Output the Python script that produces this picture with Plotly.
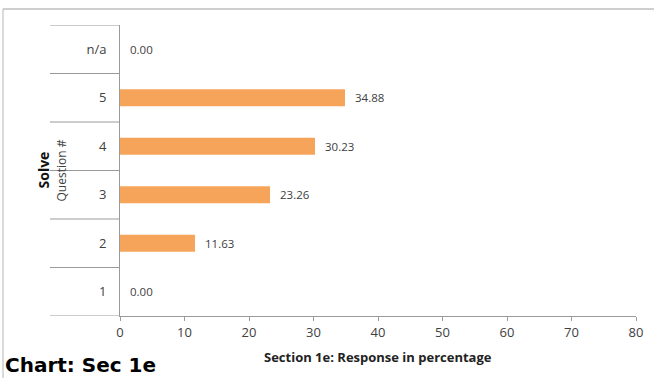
import plotly.graph_objects as go

# Response share per question (percent)
questions = ["1", "2", "3", "4", "5", "n/a"]
responses = [0.00, 11.63, 23.26, 30.23, 34.88, 0.00]
x_ticks = [0, 10, 20, 30, 40, 50, 60, 70, 80]

BAR = "#F5A45A"
TXT = "#404040"
AXIS = "#9a9a9a"
FONT = "Open Sans, Liberation Sans, sans-serif"

W, H = 654, 378
L, R, T, B = 120, 18, 25, 62
pw, ph = W - L - R, H - T - B


def px_x(px):
    return (px - L) / pw


def px_y(py):
    return (H - B - py) / ph


fig = go.Figure(
    go.Bar(
        x=responses,
        y=questions,
        orientation="h",
        width=0.35,
        marker=dict(color=BAR, line=dict(width=0)),
        hoverinfo="x+y",
    )
)

annotations = []
# value labels to the right of each bar (category axis positions are indices)
for i, v in enumerate(responses):
    annotations.append(dict(
        x=v, y=i, xref="x", yref="y", text=f"{v:.2f}", showarrow=False,
        xanchor="left", yanchor="middle", xshift=8,
        font=dict(size=11.5, color=TXT, family=FONT),
    ))

# vertical axis titles
annotations.append(dict(
    x=px_x(43), y=0.5, xref="paper", yref="paper", text="<b>Solve</b>",
    textangle=-90, showarrow=False, xanchor="center", yanchor="middle",
    font=dict(size=14, color="#111", family=FONT),
))
annotations.append(dict(
    x=px_x(61), y=0.5, xref="paper", yref="paper", text="Question #",
    textangle=-90, showarrow=False, xanchor="center", yanchor="middle",
    font=dict(size=12, color=TXT, family=FONT),
))
# horizontal axis title
annotations.append(dict(
    x=0.5, y=px_y(357), xref="paper", yref="paper",
    text="<b>Section 1e: Response in percentage</b>", showarrow=False,
    xanchor="center", yanchor="middle",
    font=dict(size=13, color="#222", family=FONT),
))
# chart caption, sitting on the bottom edge
annotations.append(dict(
    x=px_x(4), y=px_y(378), xref="paper", yref="paper",
    text="<b>Chart: Sec 1e</b>", showarrow=False,
    xanchor="left", yanchor="bottom", borderpad=0,
    font=dict(size=20, color="#000", family="DejaVu Sans, Verdana, sans-serif"),
))

shapes = []
# category separators extending left of the value axis
for i in range(len(questions) + 1):
    shapes.append(dict(
        type="line", xref="paper", yref="y",
        x0=px_x(50), x1=0, y0=i - 0.5, y1=i - 0.5,
        line=dict(color=AXIS, width=1),
    ))
# outer frame (top and left edges)
shapes.append(dict(type="line", xref="paper", yref="paper",
                   x0=px_x(3), x1=px_x(W + 5), y0=px_y(9), y1=px_y(9),
                   line=dict(color="#cfcfcf", width=2)))
shapes.append(dict(type="line", xref="paper", yref="paper",
                   x0=px_x(3), x1=px_x(3), y0=px_y(9), y1=px_y(H + 5),
                   line=dict(color="#b5b5b5", width=1)))

fig.update_layout(
    width=W, height=H,
    margin=dict(l=L, r=R, t=T, b=B),
    paper_bgcolor="white", plot_bgcolor="white",
    showlegend=False,
    annotations=annotations, shapes=shapes,
    font=dict(family=FONT, color=TXT),
    xaxis=dict(
        range=[0, 80], tickvals=x_ticks, showgrid=False, zeroline=False,
        showline=True, linecolor=AXIS, linewidth=1,
        ticks="outside", ticklen=4, tickcolor=AXIS,
        tickfont=dict(size=13, color=TXT, family=FONT),
    ),
    yaxis=dict(
        categoryorder="array", categoryarray=questions,
        range=[-0.5, len(questions) - 0.5],
        showgrid=False, zeroline=False,
        showline=True, linecolor=AXIS, linewidth=1,
        ticks="outside", ticklen=10, tickcolor="rgba(0,0,0,0)",
        tickfont=dict(size=13, color=TXT, family=FONT),
    ),
)

fig.write_html("out.html")
